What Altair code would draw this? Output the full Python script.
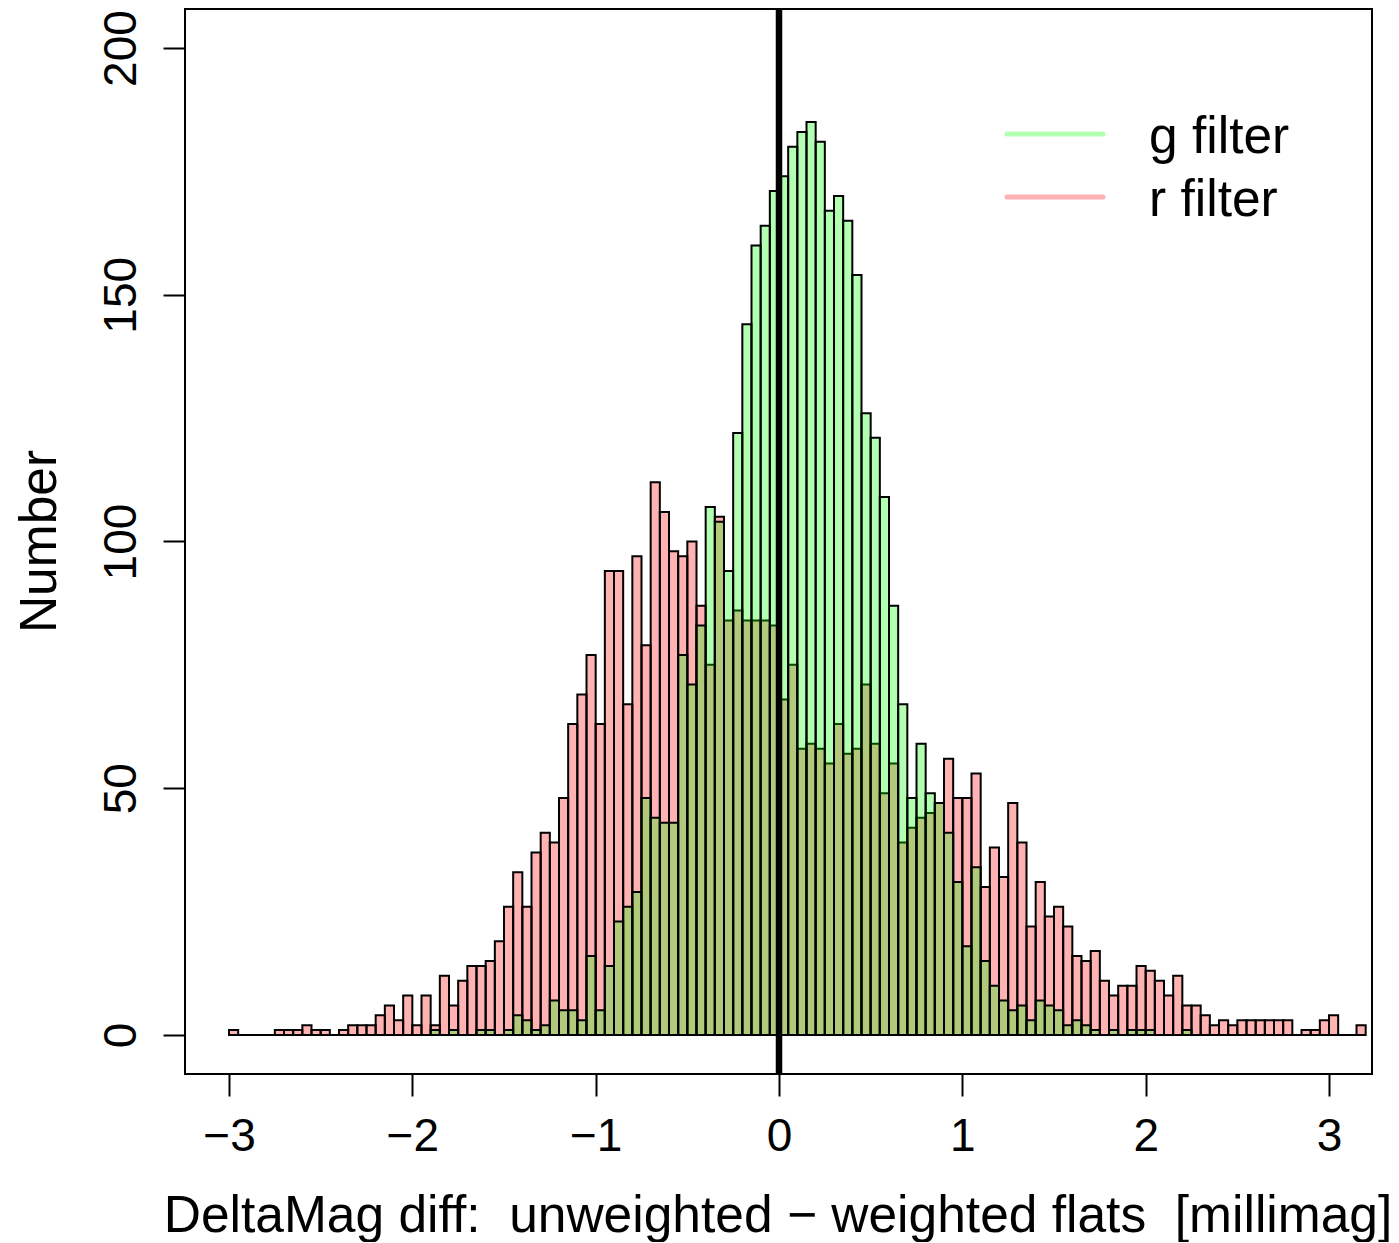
import altair as alt
import pandas as pd

# ---------------- data ----------------
BIN_START = -3.0
BIN_WIDTH = 0.05

R_COUNTS = [
    1, 0, 0, 0, 0, 1, 1, 1, 2, 1,
    1, 0, 1, 2, 2, 2, 4, 6, 3, 8,
    2, 8, 2, 12, 6, 11, 14, 14, 15, 19,
    26, 33, 26, 37, 41, 39, 48, 63, 69, 77,
    63, 94, 94, 67, 97, 79, 112, 106, 98, 97,
    100, 87, 75, 105, 84, 86, 84, 84, 84, 83,
    68, 75, 58, 59, 58, 55, 63, 57, 58, 71,
    59, 49, 55, 39, 42, 44, 45, 47, 56, 48,
    48, 53, 30, 38, 32, 47, 39, 22, 31, 24,
    26, 22, 16, 15, 17, 11, 8, 10, 10, 14,
    13, 11, 8, 12, 6, 6, 4, 2, 3, 2,
    3, 3, 3, 3, 3, 3, 0, 1, 1, 3,
    4, 0, 0, 2,
]

G_COUNTS = [
    0, 0, 0, 0, 0, 0, 0, 0, 0, 0,
    0, 0, 0, 0, 0, 0, 0, 0, 0, 0,
    0, 0, 1, 0, 1, 0, 0, 1, 1, 0,
    1, 4, 3, 1, 2, 7, 5, 5, 3, 16,
    5, 14, 23, 26, 29, 48, 44, 43, 43, 77,
    71, 83, 107, 104, 94, 122, 144, 160, 164, 171,
    174, 180, 183, 185, 181, 167, 170, 165, 154, 126,
    121, 109, 87, 67, 48, 59, 49, 47, 41, 31,
    18, 34, 15, 10, 7, 5, 6, 3, 7, 6,
    5, 2, 3, 2, 1, 0, 1, 0, 1, 1,
    1, 0, 0, 0, 1, 0, 0, 0, 0, 0,
    0, 0, 0, 0, 0, 0, 0, 0, 0, 0,
    0, 0, 0, 0,
]

X_TICKS = [-3, -2, -1, 0, 1, 2, 3]
Y_TICKS = [0, 50, 100, 150, 200]
ZERO_LINE = [0.0]

X_TITLE = "DeltaMag diff: \u00a0unweighted \u2212 weighted flats \u00a0[millimag]"
Y_TITLE = "Number"

LEGEND_LABELS = ["g filter", "r filter"]
LEGEND_COLORS = ["#00ff00", "#ff0000"]
R_COLOR = "#ff0000"
G_COLOR = "#00ff00"

X_DOMAIN = [-3.24, 3.2345]
Y_DOMAIN = [-7.903, 207.903]

FONT = "Liberation Sans"


def frame(counts):
    rows = []
    for i, c in enumerate(counts):
        lo = round(BIN_START + i * BIN_WIDTH, 4)
        rows.append({"lo": lo, "hi": round(lo + BIN_WIDTH, 4), "n": c})
    return pd.DataFrame(rows)


r_df = frame(R_COUNTS)
g_df = frame(G_COUNTS)
base_df = pd.DataFrame({"lo": [r_df["lo"].min()], "hi": [r_df["hi"].max()], "n": [0]})
zero_df = pd.DataFrame({"x": ZERO_LINE})

xs = alt.Scale(domain=X_DOMAIN, nice=False, zero=False)
ys = alt.Scale(domain=Y_DOMAIN, nice=False, zero=False)

x_axis = alt.Axis(
    values=X_TICKS, format="d", title=X_TITLE,
    titleFontSize=51.5, titleFont=FONT, titleFontWeight="normal", titleColor="black",
    titleX=592.5, titleY=157, titleBaseline="alphabetic", titleAlign="center",
    labelFontSize=46, labelFont=FONT, labelColor="black",
    labelBaseline="alphabetic", labelAlign="center", labelPadding=54,
    labelFlush=False, labelOverlap=False,
    tickSize=22, tickWidth=2, tickColor="black",
    domain=False, grid=False,
)
y_axis = alt.Axis(
    values=Y_TICKS, format="d", title=Y_TITLE,
    titleFontSize=51.5, titleFont=FONT, titleFontWeight="normal", titleColor="black",
    titleAngle=270, titleX=-130, titleY=532, titleBaseline="alphabetic", titleAlign="center",
    labelFontSize=46, labelFont=FONT, labelColor="black",
    labelAngle=270, labelAlign="center", labelBaseline="alphabetic", labelPadding=28,
    labelFlush=False, labelOverlap=False,
    tickSize=22, tickWidth=2, tickColor="black",
    domain=False, grid=False,
)


def bars(df, color):
    return alt.Chart(df).mark_bar(
        fill=color, fillOpacity=0.3, stroke="black", strokeWidth=2, strokeOpacity=1
    ).encode(
        x=alt.X("lo:Q", scale=xs, axis=x_axis),
        x2="hi:Q",
        y=alt.Y("n:Q", scale=ys, axis=y_axis, stack=None),
        y2=alt.datum(0),
    )


r_bars = bars(r_df, R_COLOR)
g_bars = bars(g_df, G_COLOR)

baseline = alt.Chart(base_df).mark_rule(color="black", strokeWidth=2).encode(
    x=alt.X("lo:Q", scale=xs, axis=x_axis),
    x2="hi:Q",
    y=alt.Y("n:Q", scale=ys, axis=y_axis),
)

zero_line = alt.Chart(zero_df).mark_rule(color="black", strokeWidth=6.5).encode(
    x=alt.X("x:Q", scale=xs, axis=x_axis),
)

# legend (placed in the upper right of the plot area)
LEGEND_Y_PX = [125, 188]
legend_layers = []
for lab, col, ypx in zip(LEGEND_LABELS, LEGEND_COLORS, LEGEND_Y_PX):
    ldf = pd.DataFrame({"label": [lab]})
    legend_layers.append(
        alt.Chart(ldf).mark_rule(
            color=col, strokeOpacity=0.3, strokeWidth=5, strokeCap="round"
        ).encode(x=alt.value(822), x2=alt.value(918), y=alt.value(ypx))
    )
    legend_layers.append(
        alt.Chart(ldf).mark_text(
            align="left", baseline="alphabetic", dy=19, fontSize=51.5, font=FONT, color="black"
        ).encode(x=alt.value(964), y=alt.value(ypx), text="label:N")
    )

chart = alt.layer(
    baseline, r_bars, g_bars, zero_line, *legend_layers
).properties(
    width=1187,
    height=1065,
    padding={"left": 177, "top": 1, "right": 19, "bottom": 168},
    autosize=alt.AutoSizeParams(type="none"),
    background="white",
).configure_view(
    stroke="black", strokeWidth=2
)

chart.save("out.html", embed_options={"renderer": "svg", "actions": False})
